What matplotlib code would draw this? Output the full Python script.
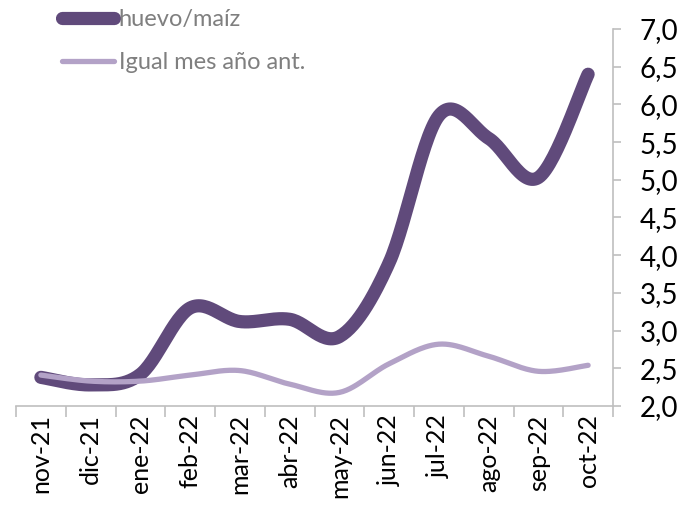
import numpy as np
import matplotlib
matplotlib.use('Agg')
import matplotlib.pyplot as plt
from matplotlib.ticker import FixedLocator, FuncFormatter

# monthly ratio, current year and same month previous year
months = ['nov-21', 'dic-21', 'ene-22', 'feb-22', 'mar-22', 'abr-22',
          'may-22', 'jun-22', 'jul-22', 'ago-22', 'sep-22', 'oct-22']
huevo_maiz = [2.38, 2.28, 2.42, 3.30, 3.12, 3.15, 2.92, 3.90, 5.85, 5.55, 5.03, 6.40]
igual_mes = [2.41, 2.33, 2.33, 2.41, 2.47, 2.29, 2.18, 2.56, 2.82, 2.66, 2.46, 2.54]

DARK = '#604A7B'
LIGHT = '#B3A2C7'
GRID = '#BFBFBF'

plt.rcParams['font.family'] = ['Lato', 'DejaVu Sans']


def smooth(y, n=30):
    """Catmull-Rom curve through the points (like a smoothed line in a spreadsheet)"""
    y = np.asarray(y, dtype=float)
    x = np.arange(len(y), dtype=float)
    px = np.concatenate([[x[0]], x, [x[-1]]])
    py = np.concatenate([[y[0]], y, [y[-1]]])
    xs, ys = [], []
    t = np.linspace(0, 1, n)
    for i in range(1, len(px) - 2):
        p0, p1, p2, p3 = py[i - 1], py[i], py[i + 1], py[i + 2]
        q0, q1, q2, q3 = px[i - 1], px[i], px[i + 1], px[i + 2]
        b1 = p1 + (p2 - p0) / 6.
        b2 = p2 - (p3 - p1) / 6.
        c1 = q1 + (q2 - q0) / 6.
        c2 = q2 - (q3 - q1) / 6.
        ys.append((1 - t)**3 * p1 + 3 * (1 - t)**2 * t * b1 + 3 * (1 - t) * t**2 * b2 + t**3 * p2)
        xs.append((1 - t)**3 * q1 + 3 * (1 - t)**2 * t * c1 + 3 * (1 - t) * t**2 * c2 + t**3 * q2)
    return np.concatenate(xs), np.concatenate(ys)


fig = plt.figure(figsize=(6.88, 5.07), dpi=100)
ax = fig.add_axes([16 / 688, 101 / 507, 597 / 688, 377 / 507])

x1, y1 = smooth(huevo_maiz)
x2, y2 = smooth(igual_mes)
ax.plot(x1, y1, color=DARK, linewidth=9.5, solid_capstyle='round', label='huevo/maíz')
ax.plot(x2, y2, color=LIGHT, linewidth=3.8, solid_capstyle='round', label='Igual mes año ant.')

ax.set_xlim(-0.5, len(months) - 0.5)
ax.set_ylim(2.0, 7.0)

# y axis on the right
ax.yaxis.tick_right()
ax.set_yticks(np.arange(2.0, 7.01, 0.5))
ax.yaxis.set_major_formatter(FuncFormatter(lambda v, p: ('%.1f' % v).replace('.', ',')))
ax.tick_params(axis='y', which='major', direction='out', length=6, width=1.2,
               color=GRID, labelsize=20, pad=13, labelcolor='black')

# category labels at centres, tick marks at boundaries
ax.set_xticks(range(len(months)))
ax.set_xticklabels(months, rotation=90)
ax.xaxis.set_minor_locator(FixedLocator(np.arange(-0.5, len(months), 1.0)))
ax.tick_params(axis='x', which='major', length=0, labelsize=18, pad=6, labelcolor='black')
ax.tick_params(axis='x', which='minor', direction='out', length=8, width=1.2, color=GRID)

for s in ['top', 'left']:
    ax.spines[s].set_visible(False)
for s in ['right', 'bottom']:
    ax.spines[s].set_color(GRID)
    ax.spines[s].set_linewidth(1.2)

leg = fig.legend(loc='upper left', bbox_to_anchor=(62 / 688, 1 - 9 / 507), frameon=False,
                 fontsize=17, handlelength=2.2, handletextpad=0.2, labelspacing=0.95,
                 borderpad=0, borderaxespad=0)
for t in leg.get_texts():
    t.set_color('#7F7F7F')

fig.savefig('out.png', dpi=100)
